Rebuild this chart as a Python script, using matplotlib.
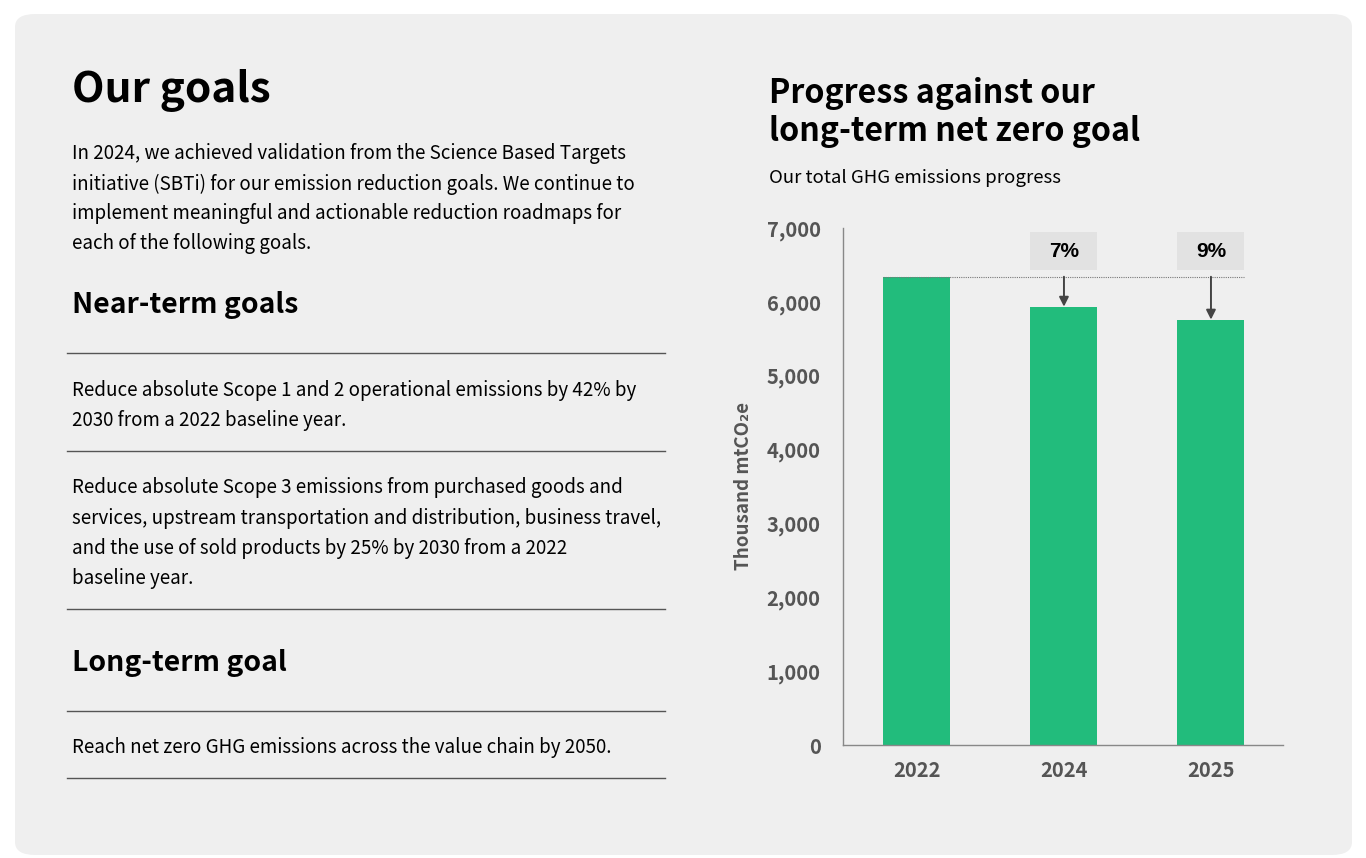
import matplotlib
matplotlib.use("Agg")
import matplotlib.pyplot as plt
from matplotlib.patches import FancyBboxPatch, Rectangle

plt.rcParams['font.family'] = ['Noto Sans CJK SC', 'DejaVu Sans']

# data
years = ['2022', '2024', '2025']
emissions = [6340, 5930, 5755]
reductions = ['', '7%', '9%']
y_ticks = [0, 1000, 2000, 3000, 4000, 5000, 6000, 7000]

W, H = 1366, 858
fig = plt.figure(figsize=(W / 100, H / 100), dpi=100)
fig.patch.set_facecolor('white')


def fx(px):
    return px / W


def fy(py):
    return 1 - py / H


# background panel
panel = FancyBboxPatch((fx(15), fy(855)), fx(1352) - fx(15), fy(14) - fy(855),
                       boxstyle="round,pad=0,rounding_size=0.015",
                       transform=fig.transFigure, facecolor='#efefef',
                       edgecolor='none', zorder=-10)
fig.patches.append(panel)

body = 13.5
off = 3
boff = 2

# left column text
fig.text(fx(72), fy(87 + off), 'Our goals', fontsize=30.5, fontweight='bold', va='center')
intro = ['In 2024, we achieved validation from the Science Based Targets',
         'initiative (SBTi) for our emission reduction goals. We continue to',
         'implement meaningful and actionable reduction roadmaps for',
         'each of the following goals.']
for i, line in enumerate(intro):
    fig.text(fx(72), fy(152 + boff + 30 * i), line, fontsize=body, va='center')

fig.text(fx(72), fy(302 + off), 'Near-term goals', fontsize=20.4, fontweight='bold', va='center')
goal1 = ['Reduce absolute Scope 1 and 2 operational emissions by 42% by',
         '2030 from a 2022 baseline year.']
for i, line in enumerate(goal1):
    fig.text(fx(72), fy(388 + boff + 30 * i), line, fontsize=body, va='center')
goal2 = ['Reduce absolute Scope 3 emissions from purchased goods and',
         'services, upstream transportation and distribution, business travel,',
         'and the use of sold products by 25% by 2030 from a 2022',
         'baseline year.']
for i, line in enumerate(goal2):
    fig.text(fx(72), fy(486 + boff + 30.3 * i), line, fontsize=body, va='center')

fig.text(fx(72), fy(660 + off), 'Long-term goal', fontsize=20.4, fontweight='bold', va='center')
fig.text(fx(72), fy(745 + boff), 'Reach net zero GHG emissions across the value chain by 2050.',
         fontsize=body, va='center')

for yy in [353, 451, 609, 711, 778]:
    fig.add_artist(plt.Line2D([fx(67), fx(665)], [fy(yy), fy(yy)],
                              transform=fig.transFigure, color='#555555', lw=1))

# right column titles
fig.text(fx(769), fy(90 + off), 'Progress against our', fontsize=23.2, fontweight='bold', va='center')
fig.text(fx(769), fy(128 + off), 'long-term net zero goal', fontsize=23.2, fontweight='bold', va='center')
fig.text(fx(769), fy(178), 'Our total GHG emissions progress', fontsize=13.4, va='center')

# chart
ax = fig.add_axes([fx(843), fy(745), fx(1283) - fx(843), fy(228) - fy(745)])
ax.set_facecolor('none')
x = list(range(len(years)))
bw = 0.456
ax.bar(x, emissions, width=bw, color='#22bc7c', zorder=2)
ax.set_xlim(-0.503, 2.49)
ax.set_ylim(0, 7000)
ax.set_yticks(y_ticks)
ax.set_yticklabels([f'{v:,}' for v in y_ticks])
ax.set_xticks(x)
ax.set_xticklabels(years)
for s in ['top', 'right']:
    ax.spines[s].set_visible(False)
for s in ['left', 'bottom']:
    ax.spines[s].set_color('#888888')
    ax.spines[s].set_linewidth(1)
ax.tick_params(axis='y', length=0, pad=16, labelsize=14.5, labelcolor='#555555')
ax.tick_params(axis='x', length=0, pad=11, labelsize=14.5, labelcolor='#555555')
for lab in ax.get_xticklabels() + ax.get_yticklabels():
    lab.set_fontweight('bold')
ax.set_ylabel('Thousand mtCO\u2082e', fontsize=13.5, fontweight='bold', color='#555555',
              labelpad=10)

base = emissions[0]
ax.hlines(base, x[0] - bw / 2, x[-1] + bw / 2, colors='#777777', linestyles=(0, (1, 1)),
          linewidth=0.8, zorder=3)
for xi, val, lab in zip(x, emissions, reductions):
    if not lab:
        continue
    ax.add_patch(Rectangle((xi - bw / 2, base + 85), bw, 520, facecolor='#e2e2e2',
                           edgecolor='none', zorder=2))
    ax.text(xi, base + 345, lab, ha='center', va='center', fontsize=15,
            fontweight='bold', color='black', zorder=4,
            family=['Liberation Sans', 'DejaVu Sans'])
    ax.annotate('', xy=(xi, val + 5), xytext=(xi, base),
                arrowprops=dict(arrowstyle='-|>', color='#444444', lw=1.4,
                                mutation_scale=14, shrinkA=0, shrinkB=0), zorder=4)

fig.savefig('out.png', dpi=100, facecolor='white')
